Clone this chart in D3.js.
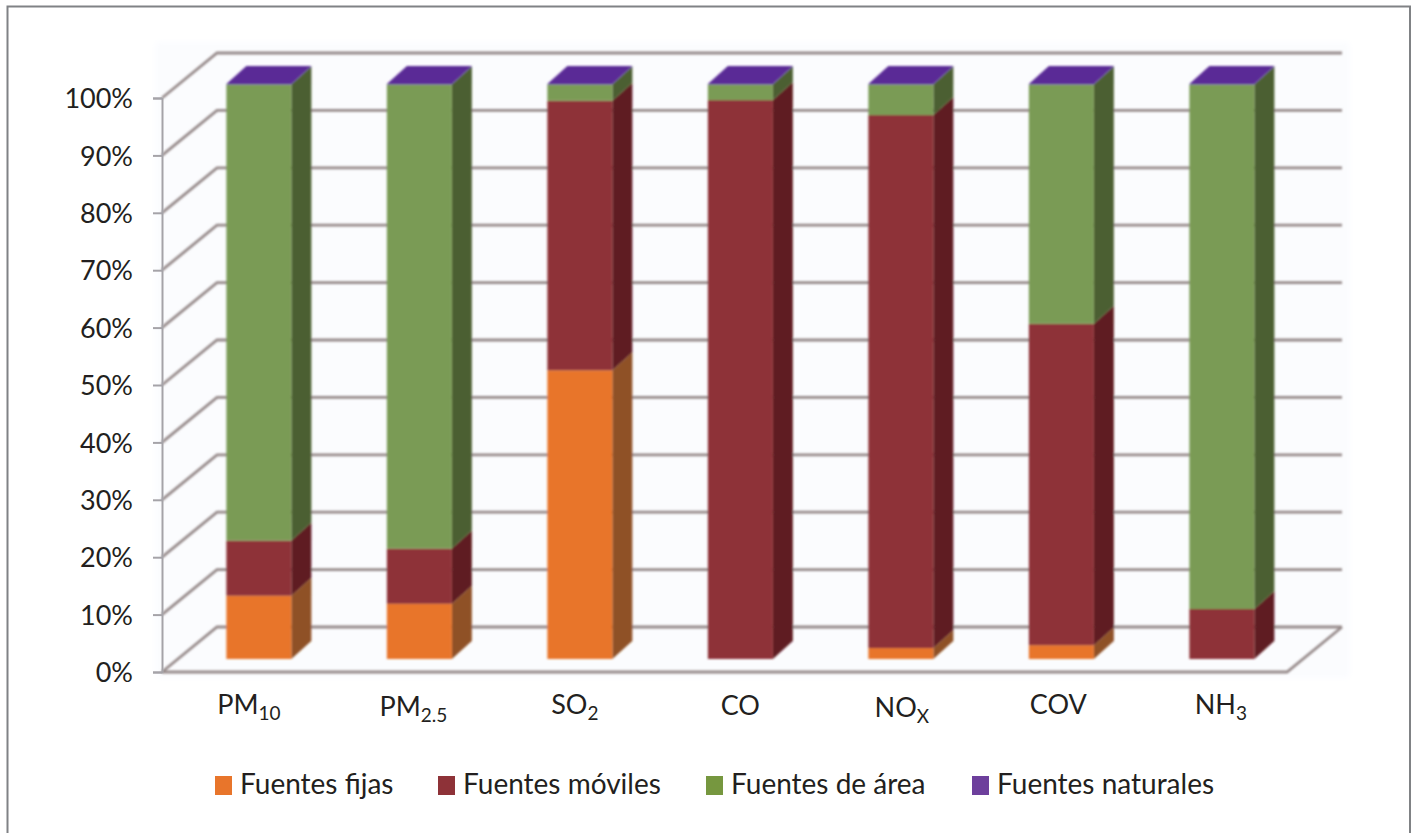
<!DOCTYPE html>
<html lang="es">
<head>
<meta charset="utf-8">
<script src="https://cdnjs.cloudflare.com/ajax/libs/d3/7.8.5/d3.min.js"></script>
<style>
html,body{margin:0;padding:0;background:#fff;}
svg{display:block;}
text{font-family:Lato,"Open Sans",sans-serif;fill:#231f20;}
</style>
</head>
<body>
<script>
// ---- data ----
const categories = ["PM10","PM2.5","SO2","CO","NOX","COV","NH3"];
const labelBase  = ["PM","PM","SO","CO","NO","COV","NH"];
const labelSub   = ["10","2.5","2","","X","","3"];
const seriesNames = ["Fuentes fijas","Fuentes móviles","Fuentes de área","Fuentes naturales"];
const fijas     = [11.0, 9.6, 50.2, 0,   1.9, 2.4,  0];
const moviles   = [9.6,  9.6, 46.9, 97.2,92.7,55.9, 8.7];
const area      = [79.3, 80.7,2.8,  2.7, 5.3, 41.6, 91.2];
const naturales = [0.1,  0.1, 0.1,  0.1, 0.1, 0.1,  0.1];
const yTicks = [0,10,20,30,40,50,60,70,80,90,100];

// ---- look ----
const W = 1411, H = 833;
const frontColors = ["#e8752b","#8e3038","#7a9b55","#5f3a9a"];
const sideColors  = ["#8f5128","#5f1c22","#4b5f30","#3f2a70"];
const topColor = "#5a2b96";
const legendSwatch = ["#e8752b","#8e3238","#76973f","#6d3f9c"];
const gridColor = "#968a8a";

const svg = d3.select("body").append("svg").attr("width",W).attr("height",H);
const defs = svg.append("defs");
defs.append("filter").attr("id","soft").attr("x","-5%").attr("y","-5%").attr("width","110%").attr("height","110%")
  .append("feGaussianBlur").attr("stdDeviation",0.8);
defs.append("filter").attr("id","wallBlur").attr("x","-5%").attr("y","-5%").attr("width","110%").attr("height","110%")
  .append("feGaussianBlur").attr("stdDeviation",3);

// frame
svg.append("path").attr("d",`M7.5,${H}V6.5H1410V${H}`).attr("fill","none").attr("stroke","#808285").attr("stroke-width",2);

// plot geometry
const axisX = 162, wallDX = 55, wallDY = 45;
const xEnd = 1287;
const yAxisScale = d3.scaleLinear().domain([0,100]).range([672,98]);
const yBar = d3.scaleLinear().domain([0,100]).range([659,84]);
const xBand = d3.scaleBand().domain(categories).range([178.6,1302.1]);
const barW = 65, barDX = 20, barDY = 18;
const barX = c => xBand(c) + xBand.bandwidth()/2 - barW/2;

svg.append("rect").attr("x",155).attr("y",42).attr("width",1195).attr("height",636)
  .attr("fill","#fbfcfe").attr("filter","url(#wallBlur)");

const plot = svg.append("g").attr("filter","url(#soft)");

// wall & floor grid
const grid = plot.append("g").attr("fill","none").attr("stroke",gridColor).attr("stroke-width",2.8);
grid.selectAll("path.g").data(yTicks).join("path").attr("class","g")
  .attr("d",t=>{
    const y = yAxisScale(t);
    return `M${axisX},${y}L${axisX+wallDX},${y-wallDY}H${xEnd+wallDX}`;
  });
grid.append("path")
  .attr("d",`M${axisX},${yAxisScale(0)}H${xEnd}L${xEnd+wallDX},${yAxisScale(0)-wallDY}`);

// y axis
const yAxis = d3.axisLeft(yAxisScale).tickValues(yTicks).tickSize(9).tickPadding(20).tickFormat(d=>d+"%");
const yg = svg.append("g").attr("transform",`translate(${axisX},0)`).call(yAxis);
yg.select(".domain").attr("stroke","#a5a3a8").attr("stroke-width",2);
yg.selectAll(".tick line").attr("stroke","#a5a3a8").attr("stroke-width",2);
yg.selectAll(".tick text").attr("font-size",27).attr("dy","0.36em").style("fill","#231f20").attr("font-family","Lato");

// stacked 3-D bars
const rows = categories.map((c,i)=>({c,0:fijas[i],1:moviles[i],2:area[i],3:naturales[i]}));
const stack = d3.stack().keys([0,1,2,3])(rows);
const bars = plot.append("g");
stack.forEach((layer,k)=>{
  const g = bars.append("g");
  g.selectAll("path.side").data(layer.filter(d=>d[1]>d[0])).join("path").attr("class","side")
    .attr("fill",sideColors[k])
    .attr("d",d=>{
      const x = barX(d.data.c)+barW, y0=yBar(d[0]), y1=yBar(d[1]);
      return `M${x},${y0}L${x+barDX},${y0-barDY}V${y1-barDY}L${x},${y1}Z`;
    });
  g.selectAll("rect").data(layer.filter(d=>d[1]>d[0])).join("rect")
    .attr("x",d=>barX(d.data.c)).attr("width",barW)
    .attr("y",d=>yBar(d[1])).attr("height",d=>yBar(d[0])-yBar(d[1]))
    .attr("fill",frontColors[k]);
});
bars.selectAll("path.top").data(stack[3]).join("path").attr("class","top")
  .attr("fill",topColor)
  .attr("d",d=>{
    const x=barX(d.data.c), y=yBar(d[1]);
    return `M${x},${y}L${x+barDX},${y-barDY}H${x+barW+barDX}L${x+barW},${y}Z`;
  });

// category labels (real text with subscripts)
const labelNudgeX = [-10,-6,-5,0,1,-3,-1];
const labelNudgeY = [0,2,0,1,3,0,0];
const xl = svg.append("g").attr("font-size",27);
categories.forEach((c,i)=>{
  const t = xl.append("text").attr("text-anchor","middle")
    .attr("x",barX(c)+barW/2+labelNudgeX[i]).attr("y",714+labelNudgeY[i]);
  t.append("tspan").text(labelBase[i]);
  if(labelSub[i]) t.append("tspan").attr("font-size",19).attr("dy",6).text(labelSub[i]);
});

// legend
const legendX = [215,438,706,972];
const lg = svg.append("g").selectAll("g").data(seriesNames).join("g")
  .attr("transform",(d,i)=>`translate(${legendX[i]},776)`);
lg.append("rect").attr("width",17).attr("height",19).attr("fill",(d,i)=>legendSwatch[i]);
lg.append("text").attr("x",25).attr("y",18).attr("font-size",28).text(d=>d);
</script>
</body>
</html>
